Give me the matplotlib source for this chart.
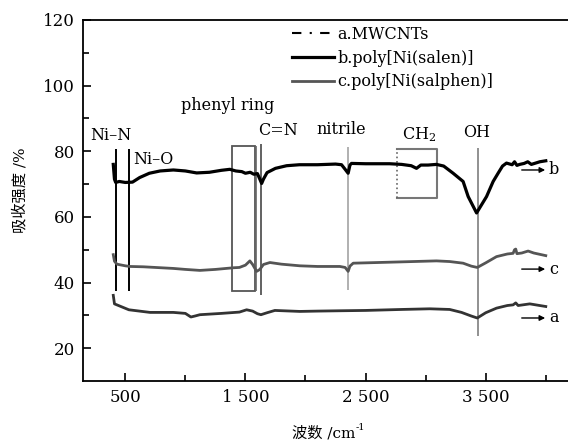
import matplotlib
matplotlib.use("Agg")
import matplotlib.pyplot as plt
from matplotlib.lines import Line2D
from matplotlib.patches import Rectangle

plt.rcParams['font.family'] = ['DejaVu Serif', 'Noto Sans CJK SC']
plt.rcParams['mathtext.fontset'] = 'dejavuserif'

# curve b: poly[Ni(salen)]
wn_b = [400, 410, 420, 450, 500, 560, 620, 700, 790, 900, 1000, 1094, 1200, 1300, 1370,
        1420, 1470, 1500, 1540, 1570, 1600, 1620, 1635, 1650, 1680, 1750, 1843, 1950,
        2100, 2250, 2300, 2330, 2355, 2370, 2383, 2500, 2700, 2800, 2880, 2924, 2960,
        3020, 3090, 3150, 3229, 3312, 3354, 3424, 3507, 3562, 3603, 3640, 3673, 3720,
        3740, 3760, 3783, 3820, 3850, 3880, 3950, 4000]
val_b = [76.0, 71.5, 70.5, 70.8, 70.5, 70.6, 72.0, 73.3, 74.0, 74.3, 74.0, 73.4, 73.6, 74.2, 74.5,
         74.0, 73.8, 73.3, 73.6, 73.0, 73.2, 71.5, 70.2, 71.5, 73.5, 74.8, 75.6, 75.9,
         75.9, 76.1, 75.9, 74.5, 73.3, 75.8, 76.3, 76.2, 76.2, 76.0, 75.6, 74.8, 75.8,
         75.8, 76.0, 75.5, 73.3, 70.8, 66.2, 61.2, 66.2, 70.8, 73.3, 75.5, 76.4, 75.9,
         76.8, 75.7, 76.0, 76.3, 76.8, 76.0, 76.8, 77.1]

# curve c: poly[Ni(salphen)]
wn_c = [400, 410, 430, 500, 539, 650, 800, 900, 1000, 1121, 1250, 1399, 1450, 1500, 1537,
        1560, 1593, 1620, 1650, 1704, 1800, 1953, 2100, 2286, 2330, 2355, 2370, 2397,
        2600, 2800, 3090, 3200, 3312, 3380, 3430, 3500, 3590, 3680, 3728, 3740, 3750,
        3760, 3800, 3853, 3900, 3950, 4000]
val_c = [48.5, 46.5, 45.6, 45.1, 44.9, 44.8, 44.5, 44.3, 44.0, 43.7, 44.0, 44.5, 44.6, 45.3, 46.6,
         45.5, 43.4, 44.0, 45.5, 46.1, 45.6, 45.1, 44.9, 44.9, 44.6, 43.4, 45.0, 45.9,
         46.1, 46.3, 46.6, 46.4, 45.9, 45.0, 44.6, 46.0, 47.9, 48.7, 48.9, 50.0, 50.2,
         48.8, 49.0, 49.6, 49.0, 48.6, 48.2]

# curve a: MWCNTs
wn_a = [400, 410, 430, 530, 706, 900, 1000, 1046, 1080, 1121, 1300, 1450, 1510, 1560, 1600,
        1629, 1680, 1745, 1953, 2100, 2286, 2500, 2800, 3035, 3200, 3299, 3380, 3430,
        3500, 3590, 3680, 3728, 3750, 3770, 3867, 3950, 4000]
val_a = [36.1, 33.5, 33.2, 31.7, 30.9, 30.9, 30.6, 29.5, 29.8, 30.2, 30.6, 31.0, 31.7, 31.3, 30.5,
         30.2, 30.8, 31.5, 31.2, 31.3, 31.4, 31.5, 31.8, 32.0, 31.8, 30.9, 29.8, 29.2,
         30.8, 32.2, 33.0, 33.2, 33.8, 33.0, 33.5, 33.0, 32.7]

labels = ['a.MWCNTs', 'b.poly[Ni(salen)]', 'c.poly[Ni(salphen)]']
x_ticks = [500, 1500, 2500, 3500]
x_tick_labels = ['500', '1 500', '2 500', '3 500']
y_ticks = [20, 40, 60, 80, 100, 120]

fig = plt.figure(figsize=(5.68, 4.43), dpi=100)
ax = fig.add_axes([83 / 568, 62 / 443, 485 / 568, 361 / 443])

ax.plot(wn_b, val_b, color='black', lw=2.3, zorder=3)
ax.plot(wn_c, val_c, color='#555555', lw=2.0, zorder=3)
ax.plot(wn_a, val_a, color='#333333', lw=2.0, zorder=3)

# band marker lines
ax.vlines([420, 533], 37.4, 80.8, color='black', lw=1.4)
ax.add_patch(Rectangle((1390, 37.5), 189, 44.2, fill=False, ec='#555555', lw=1.3))
ax.vlines(1590, 37.5, 81.7, color='#666666', lw=1.2)
ax.vlines(1631, 36.3, 82.3, color='#555555', lw=1.3)
ax.vlines(2355, 37.8, 81.4, color='#aaaaaa', lw=1.3)
ax.vlines(3432, 23.6, 81.1, color='#888888', lw=1.3)
ax.plot([2763, 3096, 3096, 2763], [80.6, 80.6, 65.7, 65.7], color='#777777', lw=1.5)
ax.plot([2763, 2763], [65.7, 80.6], color='#666666', lw=1.2, ls=':')

fs = 11.5
ax.text(381, 84.9, 'Ni–N', ha='center', va='center', fontsize=fs)
ax.text(564, 77.4, 'Ni–O', ha='left', va='center', fontsize=fs)
ax.text(1354, 93.8, 'phenyl ring', ha='center', va='center', fontsize=fs)
ax.text(1770, 86.3, 'C=N', ha='center', va='center', fontsize=fs)
ax.text(2297, 86.5, 'nitrile', ha='center', va='center', fontsize=fs)
ax.text(2946, 85.0, 'CH$_2$', ha='center', va='center', fontsize=fs)
ax.text(3428, 85.8, 'OH', ha='center', va='center', fontsize=fs)

# curve tags with arrows
for name, y in [('b', 74.3), ('c', 44.1), ('a', 29.2)]:
    ax.annotate('', xy=(3995, y), xytext=(3800, y),
                arrowprops=dict(arrowstyle='-|>', color='black', lw=1.0,
                                mutation_scale=8, shrinkA=0, shrinkB=0))
    ax.text(4025, y, name, ha='left', va='center', fontsize=fs)

handles = [Line2D([], [], color='black', lw=1.5, dashes=(4.5, 4, 1, 4)),
           Line2D([], [], color='black', lw=2.3),
           Line2D([], [], color='#555555', lw=2.0)]
ax.legend(handles, labels, loc='upper left', bbox_to_anchor=(292 / 568, 1 - 26 / 443),
          bbox_transform=fig.transFigure, frameon=False, fontsize=fs,
          handlelength=2.6, handletextpad=0.25, labelspacing=0.42,
          borderpad=0, borderaxespad=0)

ax.set_xlim(148, 4185)
ax.set_ylim(10, 120)
ax.set_xticks(x_ticks)
ax.set_xticklabels(x_tick_labels)
ax.set_xticks([1000, 2000, 3000, 4000], minor=True)
ax.set_yticks(y_ticks)
ax.set_yticks([30, 50, 70, 90, 110], minor=True)
ax.tick_params(which='major', direction='in', length=6, width=1.2, labelsize=12, pad=6)
ax.tick_params(which='minor', direction='in', length=4, width=1.2)
ax.spines['right'].set_visible(False)
for s in ['left', 'bottom', 'top']:
    ax.spines[s].set_linewidth(1.3)

fig.text(20 / 568, 1 - 190 / 443, '吸收强度 /%', rotation=90, ha='center', va='center', fontsize=11)
fig.text(355 / 568, 1 - 433 / 443, '波数 /cm', ha='right', va='center', fontsize=11)
fig.text(356 / 568, 1 - 427 / 443, '-1', ha='left', va='center', fontsize=7)

fig.savefig('out.png', dpi=100)
